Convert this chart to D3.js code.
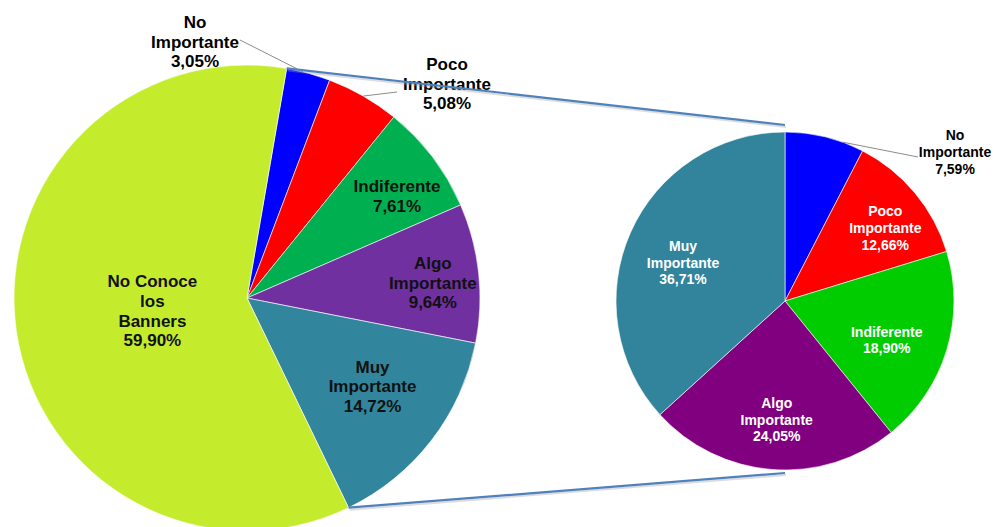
<!DOCTYPE html>
<html>
<head>
<meta charset="utf-8">
<script src="https://cdn.jsdelivr.net/npm/d3@7"></script>
<style>
  html, body { margin: 0; padding: 0; background: #ffffff; }
  svg { display: block; }
  text { font-family: "Liberation Sans", Arial, sans-serif; font-weight: bold; }
</style>
</head>
<body>
<svg id="chart" width="997" height="527"></svg>
<script>
// Main pie: all responses
const mainCategories = ["No Importante", "Poco Importante", "Indiferente", "Algo Importante", "Muy Importante", "No Conoce los Banners"];
const mainValues = [3.05, 5.08, 7.61, 9.64, 14.72, 59.90];
const mainLabelLines = [["No", "Importante"], ["Poco", "Importante"], ["Indiferente"], ["Algo", "Importante"], ["Muy", "Importante"], ["No Conoce", "los", "Banners"]];

// Secondary pie: breakdown of those who know the banners
const detailCategories = ["No Importante", "Poco Importante", "Indiferente", "Algo Importante", "Muy Importante"];
const detailValues = [7.59, 12.66, 18.90, 24.05, 36.71];
const detailLabelLines = [["No", "Importante"], ["Poco", "Importante"], ["Indiferente"], ["Algo", "Importante"], ["Muy", "Importante"]];

// Colours
const mainColors = ["#0000FF", "#FF0000", "#00B050", "#7030A0", "#31859C", "#C5EC2C"];
const detailColors = ["#0000FF", "#FF0000", "#00CC00", "#800080", "#31849B"];

const deg = Math.PI / 180;
const fmtPct = v => d3.format(".2f")(v).replace(".", ",") + "%";

const svg = d3.select("#chart");

const mainGeo = { cx: 247, cy: 298, r: 233, start: 9.8 * deg };
const detailGeo = { cx: 785, cy: 301, r: 169, start: 0 };

// label placement: inside labels use a radius factor and small angle shift,
// outside labels sit at an offset from the pie centre with a leader line
const mainLabelLayout = [
  { outside: true, x: -52, y: -256, leader: [-7, -258], leaderFrac: 0.37 },
  { outside: true, x: 200, y: -214, leader: [150, -206], leaderFrac: 0.5 },
  { f: 0.777, da: 3.2 },
  { f: 0.80, da: 1.6 },
  { f: 0.66, da: -2.4 },
  { f: 0.41, da: 0 }
];
const detailLabelLayout = [
  { outside: true, x: 170, y: -149, leader: [133, -144], leaderFrac: 0.73 },
  { f: 0.734, da: 3.8 },
  { f: 0.645, da: 4 },
  { f: 0.704, da: -0.4 },
  { f: 0.645, da: -3.2 }
];

function polar(geo, angle, radius) {
  return [geo.cx + radius * Math.sin(angle), geo.cy - radius * Math.cos(angle)];
}

function drawPie(geo, values, colors, lines, layout, opts) {
  const pie = d3.pie().sort(null).value(d => d)
    .startAngle(geo.start).endAngle(geo.start + 2 * Math.PI);
  const arcs = pie(values);
  const arc = d3.arc().innerRadius(0).outerRadius(geo.r);

  const g = svg.append("g").attr("transform", `translate(${geo.cx},${geo.cy})`);
  g.selectAll("path.slice").data(arcs).enter().append("path")
    .attr("class", "slice")
    .attr("d", arc)
    .attr("fill", (d, i) => colors[i])
    .attr("stroke", "rgba(255,255,255,0.75)")
    .attr("stroke-width", 0.8);

  const labels = svg.append("g");
  arcs.forEach((d, i) => {
    const L = layout[i];
    const textLines = lines[i].concat([fmtPct(values[i])]);
    let x, y, fill;
    if (L.outside) {
      x = geo.cx + L.x; y = geo.cy + L.y; fill = "#000";
      const tAng = d.startAngle + (d.endAngle - d.startAngle) * L.leaderFrac;
      const p = polar(geo, tAng, geo.r);
      labels.append("line")
        .attr("x1", geo.cx + L.leader[0]).attr("y1", geo.cy + L.leader[1])
        .attr("x2", p[0]).attr("y2", p[1])
        .attr("stroke", "#8c8c8c").attr("stroke-width", 1);
    } else {
      const mid = (d.startAngle + d.endAngle) / 2 + L.da * deg;
      [x, y] = polar(geo, mid, geo.r * L.f);
      fill = opts.insideFill;
    }
    const n = textLines.length;
    const t = labels.append("text")
      .attr("text-anchor", "middle")
      .attr("font-size", opts.fontSize)
      .attr("fill", fill);
    textLines.forEach((s, k) => {
      t.append("tspan")
        .attr("x", x)
        .attr("y", y + (k - (n - 1) / 2) * opts.lineHeight)
        .attr("dominant-baseline", "central")
        .text(s);
    });
  });
  return arcs;
}

const mainArcs = drawPie(mainGeo, mainValues, mainColors, mainLabelLines, mainLabelLayout,
  { fontSize: 17, lineHeight: 19.6, insideFill: "#111" });
drawPie(detailGeo, detailValues, detailColors, detailLabelLines, detailLabelLayout,
  { fontSize: 14, lineHeight: 16.8, insideFill: "#ffffff" });

// connector lines from the split-out group to the secondary pie
const splitStart = mainArcs[0].startAngle;
const splitEnd = mainArcs[4].endAngle;
const pTop = polar(mainGeo, splitStart, mainGeo.r);
const pBot = polar(mainGeo, splitEnd, mainGeo.r);
const connectors = [
  [pTop, [detailGeo.cx, detailGeo.cy - detailGeo.r - 7]],
  [pBot, [detailGeo.cx, detailGeo.cy + detailGeo.r + 3]]
];
const cg = svg.append("g");
connectors.forEach(([a, b]) => {
  cg.append("line")
    .attr("x1", a[0] + 1).attr("y1", a[1] + 2).attr("x2", b[0] + 1).attr("y2", b[1] + 2)
    .attr("stroke", "#9a9a9a").attr("stroke-opacity", 0.35).attr("stroke-width", 2);
  cg.append("line")
    .attr("x1", a[0]).attr("y1", a[1]).attr("x2", b[0]).attr("y2", b[1])
    .attr("stroke", "#4F81BD").attr("stroke-width", 2.2);
});
</script>
</body>
</html>
